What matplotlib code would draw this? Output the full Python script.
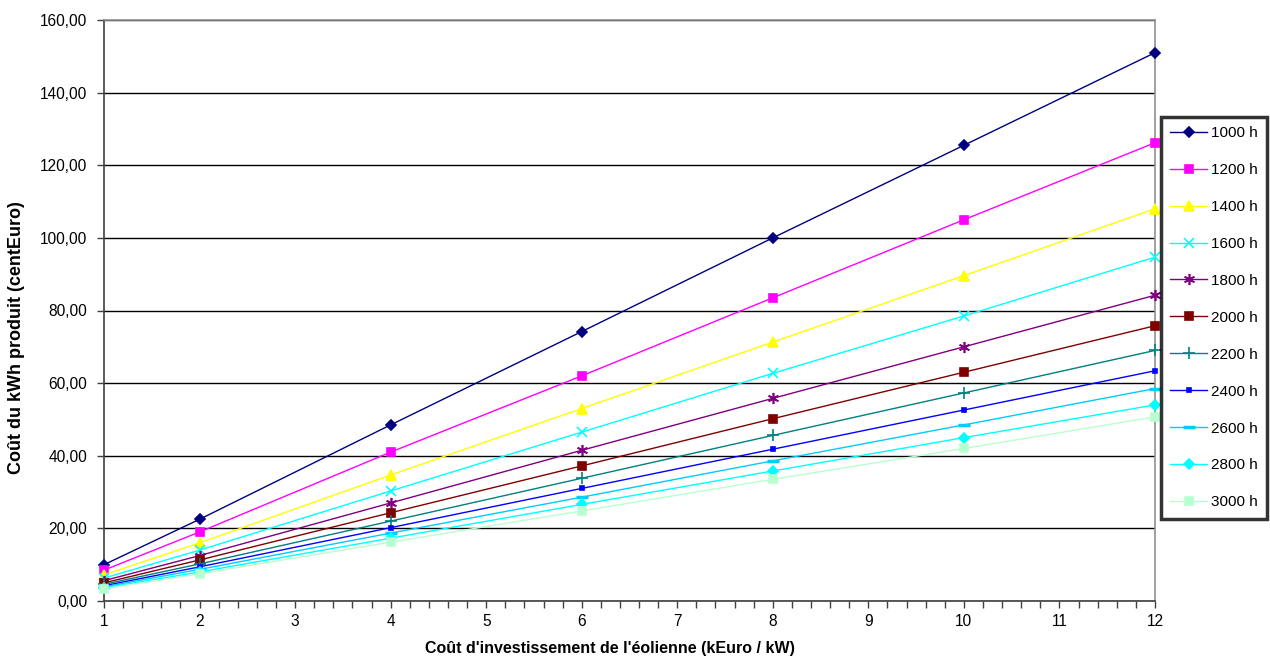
import numpy as np
import matplotlib.pyplot as plt
from matplotlib.ticker import MultipleLocator, FuncFormatter

plt.rcParams['font.family'] = ['Liberation Sans', 'DejaVu Sans']

# Data
invest = [1, 2, 4, 6, 8, 10, 12]
hours_labels = ['1000 h', '1200 h', '1400 h', '1600 h', '1800 h', '2000 h',
                '2200 h', '2400 h', '2600 h', '2800 h', '3000 h']
cost_1000 = [10.0, 22.5, 48.5, 74.2, 100.0, 125.5, 151.0]
cost_1200 = [8.5, 19.0, 41.0, 62.0, 83.5, 105.0, 126.2]
cost_1400 = [7.2, 16.0, 34.7, 53.0, 71.3, 89.6, 108.0]
cost_1600 = [6.3, 14.0, 30.3, 46.5, 62.7, 78.5, 94.7]
cost_1800 = [5.6, 12.5, 27.0, 41.5, 55.8, 70.0, 84.2]
cost_2000 = [5.0, 11.3, 24.3, 37.2, 50.2, 63.0, 75.8]
cost_2200 = [4.6, 10.2, 22.0, 33.8, 45.6, 57.3, 69.0]
cost_2400 = [4.2, 9.4, 20.2, 31.0, 41.8, 52.6, 63.4]
cost_2600 = [3.9, 8.7, 18.7, 28.6, 38.6, 48.5, 58.5]
cost_2800 = [3.6, 8.0, 17.3, 26.6, 35.8, 45.0, 54.0]
cost_3000 = [3.4, 7.5, 16.2, 24.8, 33.5, 42.0, 50.7]

series = [cost_1000, cost_1200, cost_1400, cost_1600, cost_1800, cost_2000,
          cost_2200, cost_2400, cost_2600, cost_2800, cost_3000]

# Excel-like styles: (colour, marker, marker size)
styles = [
    ('#000080', 'D', 5),
    ('#FF00FF', 's', 6),
    ('#FFFF00', '^', 7),
    ('#00FFFF', 'x', 7),
    ('#800080', (6, 2, 0), 8),
    ('#800000', 's', 6),
    ('#008080', '+', 8),
    ('#0000FF', 's', 3),
    ('#00CCFF', '_', 8),
    ('#00FFFF', 'D', 5),
    ('#B8FFD0', 's', 6),
]

fig = plt.figure(figsize=(12.7, 6.69), dpi=100)
ax = fig.add_axes([104 / 1270, 1 - 601 / 669, (1155 - 104) / 1270, (601 - 20) / 669])

for vals, lab, (col, mk, ms) in zip(series, hours_labels, styles):
    mew = 2.5 if mk == '_' else 1.2
    ax.plot(invest, vals, color=col, lw=1.0, marker=mk, markersize=ms,
            markeredgewidth=mew, markerfacecolor=col, markeredgecolor=col,
            label=lab, clip_on=False, zorder=3)

ax.set_xlim(1, 12)
ax.set_ylim(0, 160)
ax.xaxis.set_major_locator(MultipleLocator(1))
ax.xaxis.set_minor_locator(MultipleLocator(0.2))
ax.yaxis.set_major_locator(MultipleLocator(20))
ax.yaxis.set_major_formatter(FuncFormatter(lambda v, p: f"{v:.2f}".replace('.', ',')))

ax.grid(axis='y', color='black', lw=1.0, zorder=0)
ax.tick_params(axis='both', which='both', direction='out', length=5, width=1,
               color='#404040', labelsize=11.2, colors='#000000')
ax.tick_params(axis='y', pad=7)
ax.tick_params(axis='x', pad=4)

for s in ['left', 'bottom']:
    ax.spines[s].set_color('#404040')
    ax.spines[s].set_linewidth(1.2)
for s in ['top', 'right']:
    ax.spines[s].set_color('#909090')
    ax.spines[s].set_linewidth(1.2)

ax.set_xlabel("Coût d'investissement de l'éolienne (kEuro / kW)",
              fontsize=11.5, fontweight='bold', va='center')
ax.xaxis.set_label_coords((610 - 104) / 1051, -(648 - 601) / 581)
fig.text(17 / 1270, 1 - 338 / 669, "Coût du kWh produit (centEuro)",
         fontsize=13, fontweight='bold', rotation=90, ha='center', va='center')

leg = fig.legend(loc='upper left', bbox_to_anchor=(1161 / 1270, 1 - 117 / 669),
                 fontsize=11, frameon=True, fancybox=False, handlelength=2.4,
                 labelspacing=1.5, borderpad=0.6, handletextpad=0.3,
                 borderaxespad=0)
leg.get_frame().set_edgecolor('black')
leg.get_frame().set_linewidth(2.5)

fig.savefig('out.png', dpi=100)
